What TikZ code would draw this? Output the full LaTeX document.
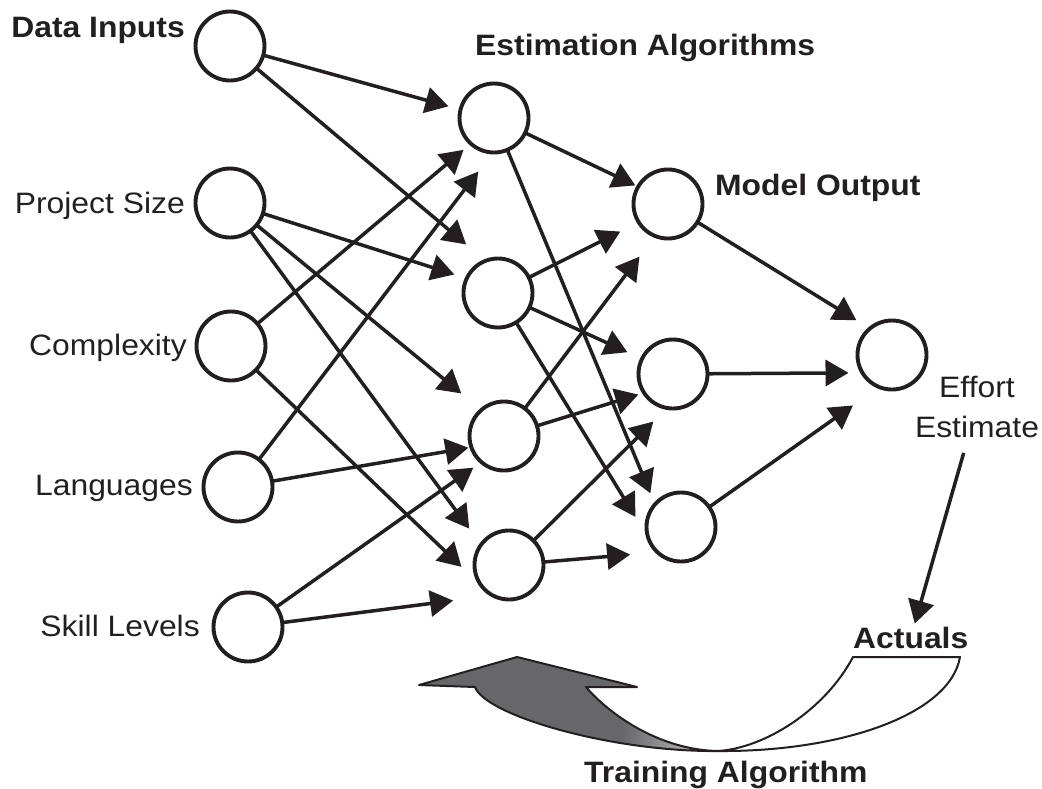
\documentclass[tikz,border=0pt]{standalone}
\usepackage{fontspec}
\setmainfont{Liberation Sans}[FakeStretch=1.08]
\usetikzlibrary{arrows.meta}
\definecolor{ink}{HTML}{231F20}
\definecolor{gA}{HTML}{67676A}
\definecolor{gB}{HTML}{A0A0A0}
\pgfdeclarehorizontalshading{bandshade}{100bp}{color(0bp)=(gA); color(25bp)=(gA); color(59bp)=(gA); color(68bp)=(gB); color(75bp)=(gB); color(100bp)=(gB)}
\begin{document}
\begin{tikzpicture}[x=1pt,y=-1pt,
  neuron/.style={circle, draw=ink, fill=white, line width=3.9pt, minimum size=69pt, inner sep=0pt, outer sep=0pt},
  lab/.style={font=\fontsize{29.5}{40}\selectfont, text=ink, inner sep=0pt},
  blab/.style={font=\fontsize{29.5}{40}\selectfont\bfseries, text=ink, inner sep=0pt},
  link/.style={draw=ink, line width=3.5pt, -{Triangle[length=23pt,width=26pt]}},
]
\useasboundingbox (0,0) rectangle (1042,788);

% neurons
\node[neuron] (i1) at (230,46) {};
\node[neuron] (i2) at (230,203) {};
\node[neuron] (i3) at (231,346) {};
\node[neuron] (i4) at (238,487) {};
\node[neuron] (i5) at (248,627) {};
\node[neuron] (h1) at (494,118) {};
\node[neuron] (h2) at (498,293) {};
\node[neuron] (h3) at (504,436) {};
\node[neuron] (h4) at (509,565) {};
\node[neuron] (o1) at (668,204) {};
\node[neuron] (o2) at (673,374) {};
\node[neuron] (o3) at (681,527) {};
\node[neuron] (f) at (892,355) {};

% labels
\node[blab, anchor=base east] (tin) at (185,37) {Data Inputs};
\node[lab, anchor=base east] (tps) at (185,213) {Project Size};
\node[lab, anchor=base east] (tcx) at (187,355) {Complexity};
\node[lab, anchor=base east] (tla) at (193,495) {Languages};
\node[lab, anchor=base east] (tsk) at (200,636) {Skill Levels};
\node[blab, anchor=base west] (tea) at (475,55) {Estimation Algorithms};
\node[blab, anchor=base west] (tmo) at (715,195) {Model Output};
\node[lab, anchor=base, align=center] (est) at (977,437) {Effort\\Estimate};
\node[blab, anchor=base west] (act) at (853,648) {Actuals};
\node[blab, anchor=base west] (tra) at (584,782) {Training Algorithm};

% input -> estimation
\draw[link, shorten >=12.5pt] (i1) -- (h1.166);
\draw[link, shorten >=25.4pt] (i1) -- (h2.111);
\draw[link, shorten >=13pt] (i2) -- (h2.155);
\draw[link, shorten >=26pt] (i2) -- (h3.131);
\draw[link, shorten >=20pt] (i2) -- (h4.144);
\draw[link, shorten >=9.6pt] (i3) -- (h1.228);
\draw[link, shorten >=28.7pt] (i3) -- (h4.219);
\draw[link, shorten >=24pt] (i4) -- (h1.268);
\draw[link, shorten >=3pt] (i4) -- (h3.199);
\draw[link, shorten >=9.8pt] (i5) -- (h3.229);
\draw[link, shorten >=40pt] (i5) -- (h4.242);

% estimation -> model output
\draw[link, shorten >=3.1pt] (h1) -- (o1.150);
\draw[link, shorten >=12pt] (h1) -- (o3.139);
\draw[link, shorten >=20.6pt] (h2) -- (o1.212);
\draw[link, shorten >=16pt] (h2) -- (o2.154);
\draw[link, shorten >=24.3pt] (h2) -- (o3.198);
\draw[link, shorten >=25.9pt] (h3) -- (o1.248);
\draw[link, shorten >=6pt] (h3) -- (o2.213);
\draw[link, shorten >=19.3pt] (h4) -- (o2.260);
\draw[link, shorten >=27.4pt] (h4) -- (o3.227);

% model output -> effort
\draw[link, shorten >=15.8pt] (o1) -- (f.130);
\draw[link, shorten >=13.9pt] (o2) -- (f.211);
\draw[link, shorten >=32pt] (o3) -- (f.248);

% effort estimate -> actuals
\draw[link, shorten <=16pt, shorten >=3pt] (est) -- (act);

% training loop arrow
\path[draw=ink, line width=2pt, line join=round, fill=white]
  (718,751) .. controls (765,748) and (825,710) .. (853,657)
  -- (960,657) .. controls (950,715) and (840,752) .. (718,751) -- cycle;
\path[shading=bandshade, draw=ink, line width=2pt, line join=round]
  (419,685) -- (517,657) -- (637,687) -- (586,687)
  .. controls (610,715) and (660,750) .. (718,751)
  .. controls (610,752) and (485,715) .. (475,687) -- cycle;
\end{tikzpicture}
\end{document}
